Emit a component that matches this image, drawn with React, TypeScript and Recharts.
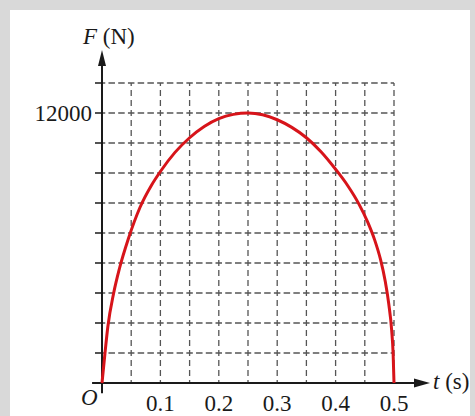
import { LineChart, Line, XAxis, YAxis, ReferenceLine, ReferenceDot } from 'recharts'

// values
const times = [
  0, 0.005, 0.01, 0.02, 0.03, 0.045, 0.065, 0.085, 0.1, 0.125, 0.15, 0.175, 0.2, 0.225, 0.25,
  0.275, 0.3, 0.325, 0.35, 0.375, 0.4, 0.42, 0.44, 0.455, 0.467, 0.477, 0.485, 0.491, 0.496, 0.4985, 0.5,
]
const forces = [
  0, 1300, 2500, 4000, 5100, 6400, 7800, 8800, 9400, 10250, 10900, 11400, 11750, 11940, 12000,
  11920, 11700, 11360, 10900, 10280, 9500, 8800, 7950, 7150, 6350, 5480, 4520, 3520, 2350, 1300, 0,
]

const xTicks = [0.1, 0.2, 0.3, 0.4, 0.5]
const xGrid = [0.05, 0.1, 0.15, 0.2, 0.25, 0.3, 0.35, 0.4, 0.45, 0.5]
const fGrid = [1333.33, 2666.67, 4000, 5333.33, 6666.67, 8000, 9333.33, 10666.67, 12000, 13333.33]
const fLabels = [12000]

const rows = times.map((t, i) => ({ t, F: forces[i] }))

const FONT = '"Liberation Serif", "Times New Roman", serif'
const INK = '#1a1a1a'
const GRID = '#555'

// axis ends in data units (axis runs a bit past the grid)
const X_START = -0.017
const X_TIP = 0.5616
const Y_START = -450
const Y_TIP = 14800

const arrowRight = (p: any) => (
  <polygon points={`${p.cx},${p.cy} ${p.cx - 16},${p.cy - 4.5} ${p.cx - 16},${p.cy + 4.5}`} fill={INK} />
)
const arrowUp = (p: any) => (
  <polygon points={`${p.cx},${p.cy} ${p.cx - 4},${p.cy + 16} ${p.cx + 4},${p.cy + 16}`} fill={INK} />
)

export default function App() {
  return (
    <div style={{ position: 'absolute', left: 0, top: 0, width: 475, height: 416, background: '#d9d9d9' }}>
      <div style={{ position: 'absolute', left: 10, top: 10, width: 460, height: 406, background: '#fff' }} />
      <div style={{ position: 'absolute', left: 0, top: 0 }}>
        <LineChart width={475} height={416} data={rows} margin={{ top: 83, right: 81, bottom: 13, left: 42 }}>
          <XAxis
            dataKey="t"
            type="number"
            domain={[0, 0.5]}
            ticks={xTicks}
            interval={0}
            height={20}
            axisLine={false}
            tickLine={false}
            tickSize={8}
            tickMargin={4}
            tick={{ fontSize: 23, fontFamily: FONT, fill: INK }}
          />
          <YAxis
            type="number"
            domain={[0, 13333.33]}
            ticks={fGrid}
            interval={0}
            width={60}
            axisLine={false}
            tickLine={{ stroke: INK, strokeWidth: 1.5 }}
            tickSize={7}
            tickMargin={3}
            tickFormatter={(v: number) => (fLabels.includes(v) ? String(v) : '')}
            tick={{ fontSize: 23, fontFamily: FONT, fill: INK }}
          />
          {fGrid.map((v) => (
            <ReferenceLine key={'h' + v} y={v} stroke={GRID} strokeWidth={1.3} strokeDasharray="6.5 3.23" strokeDashoffset={3.25} />
          ))}
          {xGrid.map((v) => (
            <ReferenceLine key={'v' + v} x={v} stroke={GRID} strokeWidth={1.3} strokeDasharray="6 4" strokeDashoffset={3} />
          ))}
          <ReferenceLine segment={[{ x: X_START, y: 0 }, { x: X_TIP - 0.01, y: 0 }]} stroke={INK} strokeWidth={2} ifOverflow="visible" />
          <ReferenceLine segment={[{ x: 0, y: Y_START }, { x: 0, y: Y_TIP - 300 }]} stroke={INK} strokeWidth={2} ifOverflow="visible" />
          <ReferenceDot x={X_TIP} y={0} r={1} ifOverflow="visible" shape={arrowRight} />
          <ReferenceDot x={0} y={Y_TIP} r={1} ifOverflow="visible" shape={arrowUp} />
          <Line
            type="monotone"
            dataKey="F"
            stroke="#d7141a"
            strokeWidth={3}
            dot={false}
            isAnimationActive={false}
          />
          <text x={83} y={44} fontFamily={FONT} fontSize={23} fill={INK}>
            <tspan fontStyle="italic">F</tspan> (N)
          </text>
          <text x={433} y={389} fontFamily={FONT} fontSize={23} fill={INK}>
            <tspan fontStyle="italic">t</tspan> (s)
          </text>
          <text x={81} y={405} fontFamily={FONT} fontSize={23} fontStyle="italic" fill={INK}>
            O
          </text>
        </LineChart>
      </div>
    </div>
  )
}
